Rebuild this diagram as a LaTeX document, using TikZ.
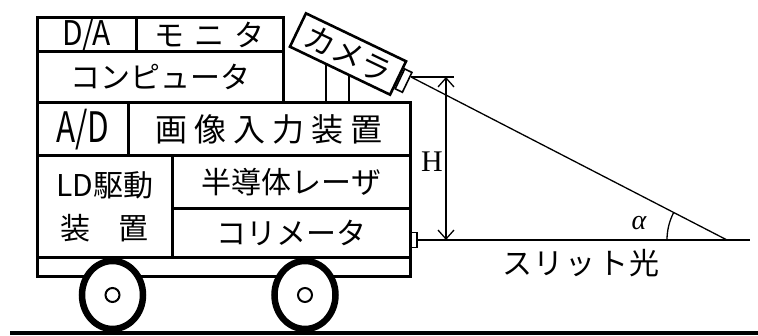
\documentclass[tikz,border=0pt]{standalone}
\usepackage{fontspec}
\setmainfont{Liberation Serif}
\newfontfamily\jp{Noto Sans CJK JP}
\usetikzlibrary{arrows.meta,calc,shapes.geometric}
\newcommand{\fsz}[1]{\fontsize{#1}{#1}\selectfont}

\begin{document}
\begin{tikzpicture}[x=1pt,y=1pt,
  cell/.style={draw, line width=2.6pt, inner sep=0pt, anchor=south west, font=\jp\fsz{30}},
  wheel/.style={draw, ellipse, line width=6.5pt, fill=white, minimum width=61pt, minimum height=68pt, inner sep=0pt},
  hub/.style={draw, circle, line width=2pt, fill=white, minimum size=14pt, inner sep=0pt},
  thinline/.style={line width=1.3pt},
  dimtip/.style={{Straight Barb[length=9pt,width=16pt]}-{Straight Barb[length=9pt,width=16pt]}},
  cambody/.style={draw, line width=2.6pt, inner sep=0pt, rotate=-25.6, font=\jp\fsz{31}},
  lensbox/.style={draw, line width=1.6pt, inner sep=0pt, rotate=-25.6, minimum width=8pt, minimum height=22pt, anchor=west}
]
\useasboundingbox (0,0) rectangle (758,336);

% cart body: stacked equipment boxes
\node[cell, minimum width=99pt,  minimum height=34pt] (da)  at (36,283)  {\scalebox{0.88}[1]{\fsz{34}D/A}};
\node[cell, minimum width=147pt, minimum height=34pt] (mon) at (135,283) {モ\hspace{10pt}ニ\hspace{10pt}タ};
\node[cell, minimum width=246pt, minimum height=51pt] (pc)  at (36,232)  {コンピュータ};
\node[cell, minimum width=91pt,  minimum height=53pt] (ad)  at (36,179)  {\scalebox{0.75}[1]{\fsz{42}A/D}};
\node[cell, minimum width=282pt, minimum height=53pt] (img) at (127,179) {\fsz{32}画\hspace{7pt}像\hspace{7pt}入\hspace{7pt}力\hspace{7pt}装\hspace{7pt}置};
\node[cell, minimum width=135pt, minimum height=102pt, align=center, font=\jp\fontsize{30}{43}\selectfont] (ld) at (36,77) {LD駆動\\装\hspace{28pt}置};
\node[cell, minimum width=238pt, minimum height=53pt] (ls)  at (171,126) {半導体レーザ};
\node[cell, minimum width=238pt, minimum height=49pt] (col) at (171,77)  {コリメータ};
\node[cell, minimum width=373pt, minimum height=19pt] (base) at (36,58) {};

% wheels
\node[wheel] (wl) at (112.5,41) {};
\node[wheel] (wr) at (305,41) {};
\node[hub] at (wl) {};
\node[hub] at (wr) {};

% ground
\draw[line width=4pt] (10,3) -- (758,3);

% camera on its stand
\node[cambody, minimum width=111pt, minimum height=37pt] (cam) at (348,282) {カメラ};
\node[lensbox] (lens) at (cam.east) {};
\coordinate (sa) at ($(cam.south west)!0.37!(cam.south east)$);
\coordinate (sb) at ($(cam.south west)!0.59!(cam.south east)$);
\draw[line width=1.8pt] (sa) -- (sa |- img.north);
\draw[line width=1.8pt] (sb) -- (sb |- img.north);

% slit light emitter and beam on the ground
\node[draw, line width=1.6pt, inner sep=0pt, minimum width=7pt, minimum height=15pt, anchor=west] (emit) at (409,96) {};
\coordinate (beamend) at (750,96);
\coordinate (spot) at (727,96);
\draw[line width=2.2pt] (emit.east) -- (beamend);

% viewing geometry
\coordinate (apex) at (411,259);
\coordinate (hx) at (454,259);
\coordinate (htop) at (446,259);
\coordinate (hbot) at (446,96);
\draw[thinline] (apex) -- (spot);
\draw[thinline] (apex) -- (hx);
\draw[thinline, dimtip] (htop) -- (hbot);
\node[font=\fsz{30}] (hlab) at (432,174) {H};
\draw[thinline] (spot) ++(180:60) arc[start angle=180, end angle=152.7, radius=60];
\node[font=\fsz{28}\itshape] (alab) at (639,113) {α};
\node[font=\jp\fsz{30}] (slit) at (581,73) {ス\hspace{2pt}リ\hspace{2pt}ッ\hspace{2pt}ト\hspace{2pt}光};
\end{tikzpicture}
\end{document}
